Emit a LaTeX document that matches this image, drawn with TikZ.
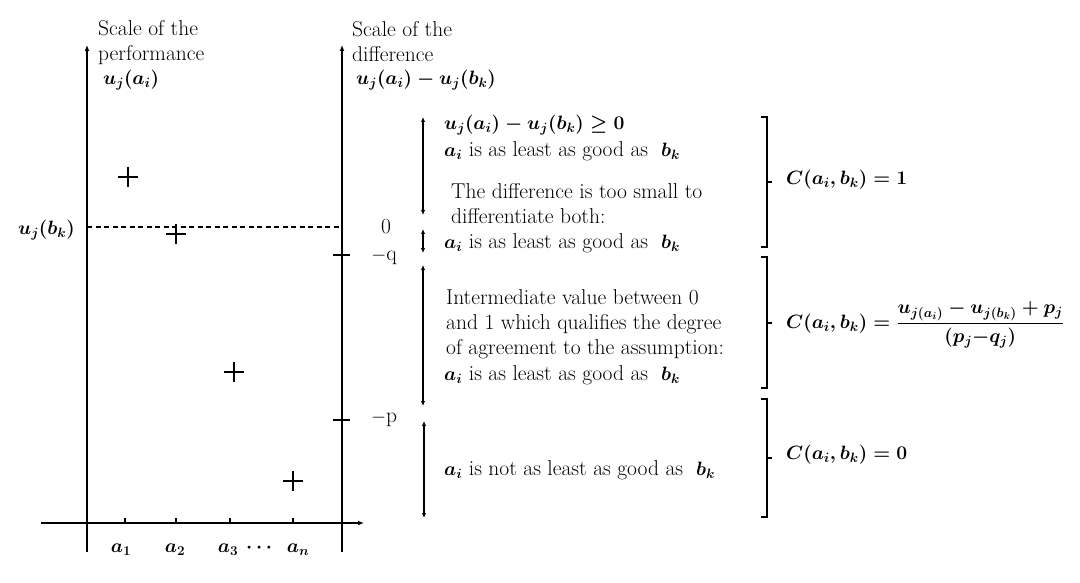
\RequirePackage{fix-cm}
\documentclass[tikz,border=0pt]{standalone}
\usepackage{amsmath}
\usetikzlibrary{arrows.meta}
\DeclareMathSizes{21.5}{19.3}{13.5}{10}
\begin{document}
\begin{tikzpicture}[x=1pt,y=-1pt,
  txt/.style={font=\fontsize{21.5}{25}\selectfont\boldmath, inner sep=0pt, align=left},
  plain/.style={font=\fontsize{21.5}{25}\selectfont\unboldmath, inner sep=0pt},
  axis/.style={line width=1.6pt, -{Latex[length=6pt,width=5pt]}},
  tick/.style={line width=1.5pt},
  dbl/.style={line width=1.4pt, {Latex[length=5pt,width=4.5pt]}-{Latex[length=5pt,width=4.5pt]}},
  brk/.style={line width=1.5pt},
  plusmark/.style={line width=2.8pt}]
\useasboundingbox (0,0) rectangle (1080,583);
% axes
\coordinate (lb) at (87,552); \coordinate (lt) at (87,45);
\coordinate (rb) at (342,552); \coordinate (rt) at (342,45);
\coordinate (hl) at (41,523); \coordinate (hr) at (364,523);
\draw[axis] (lb) -- (lt);
\draw[axis] (rb) -- (rt);
\draw[axis] (hl) -- (hr);
% ticks on horizontal axis
\foreach \x/\n in {125/1,176/2,230/3,293/4}{
  \coordinate (t\n) at (\x,523);
  \draw[tick] (t\n) -- ++(0,-5);
}
\node[txt] (a1) at (121,550) {$a_1$};
\node[txt] (a2) at (175,550) {$a_2$};
\node[txt] (a3) at (228,550) {$a_3$};
\node[txt] (ad) at (261,548) {$\cdots$};
\node[txt] (an) at (298,550) {$a_n$};
% plus marks
\foreach \x/\y in {128/177,176/234,234/372,293/481}{
  \draw[plusmark] (\x-10,\y) -- (\x+10,\y) (\x,\y-10) -- (\x,\y+10);
}
% dashed reference line
\coordinate (dl) at (87,227); \coordinate (dr) at (342,227);
\draw[line width=1.2pt, dash pattern=on 5pt off 3.5pt] (dl) -- (dr);
\node[txt, anchor=east] (ubk) at (75,230) {$u_j(b_k)$};
% ticks on right axis
\coordinate (qa) at (333,255); \coordinate (qb) at (350,255);
\coordinate (pa) at (333,420); \coordinate (pb) at (350,420);
\draw[tick] (qa) -- (qb);
\draw[tick] (pa) -- (pb);
\node[plain] (zero) at (386,227) {0};
\node[plain] (mq) at (384,257) {$-$q};
\node[plain] (mp) at (384,419) {$-$p};
% titles
\node[txt, anchor=west] (s1) at (98,43) {Scale of the\\performance};
\node[txt, anchor=west] (s1m) at (103,80) {$u_j(a_i)$};
\node[txt, anchor=west] (s2) at (352,42) {Scale of the\\difference};
\node[txt, anchor=west] (s2m) at (356,80) {$u_j(a_i)-u_j(b_k)$};
% double arrows
\coordinate (d1a) at (423,117); \coordinate (d1b) at (423,215);
\coordinate (d2a) at (423,229); \coordinate (d2b) at (423,253);
\coordinate (d3a) at (423,265); \coordinate (d3b) at (423,406);
\coordinate (d4a) at (424,421); \coordinate (d4b) at (424,518);
\draw[dbl] (d1a) -- (d1b);
\draw[dbl] (d2a) -- (d2b);
\draw[dbl] (d3a) -- (d3b);
\draw[dbl] (d4a) -- (d4b);
% descriptive texts
\node[txt, anchor=west] (e1) at (444,125) {$u_j(a_i)-u_j(b_k)\geq 0$};
\node[txt, anchor=west] (e2) at (444,151) {$a_i$ is as least as good as \ $b_k$};
\node[txt, anchor=west] (e3) at (451,204) {The difference is too small to\\differentiate both:};
\node[txt, anchor=west] (e4) at (444,243) {$a_i$ is as least as good as \ $b_k$};
\node[txt, anchor=west] (e5) at (446,324) {Intermediate value between 0\\and 1 which qualifies the degree\\of agreement to the assumption:};
\node[txt, anchor=west] (e6) at (444,375) {$a_i$ is as least as good as \ $b_k$};
\node[txt, anchor=west] (e7) at (444,470) {$a_i$ is not as least as good as \ $b_k$};
% brackets
\foreach \n/\ya/\yb/\ym in {1/117/247/182,2/257/388/323,3/399/517/458}{
  \coordinate (b\n t) at (767,\ya); \coordinate (b\n b) at (767,\yb); \coordinate (b\n m) at (767,\ym);
  \draw[brk] (761,\ya) -- (b\n t) -- (b\n b) -- (761,\yb);
  \draw[brk] (b\n m) -- ++(5,0);
}
\node[txt, anchor=west] (c1) at (786,180) {$C(a_i,b_k) = 1$};
\node[txt, anchor=west] (c2) at (786,325) {$C(a_i,b_k) = \dfrac{u_{j(a_i)}-u_{j(b_k)}+p_j}{(p_j{-}q_j)}$};
\node[txt, anchor=west] (c3) at (786,455) {$C(a_i,b_k) = 0$};
\end{tikzpicture}
\end{document}
